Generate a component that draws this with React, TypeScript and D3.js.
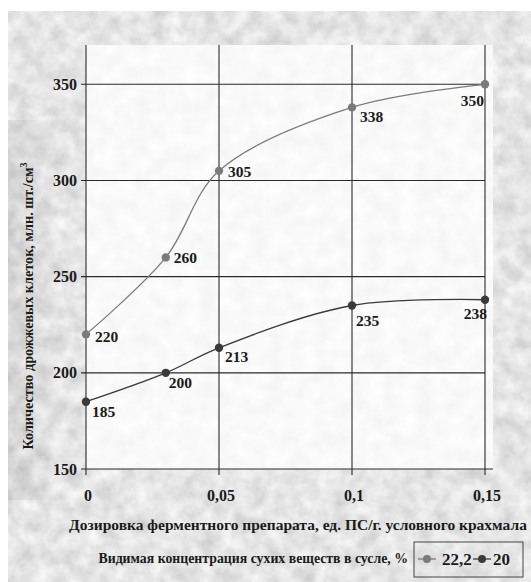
import React from 'react';
import * as d3 from 'd3';

const doses = [0, 0.03, 0.05, 0.1, 0.15];
const seriesA = [220, 260, 305, 338, 350]; // 22,2 %
const seriesB = [185, 200, 213, 235, 238]; // 20 %
const seriesNames = ['22,2', '20'];
const xTicks = [0, 0.05, 0.1, 0.15];
const xTickLabels = ['0', '0,05', '0,1', '0,15'];
const yTicks = [150, 200, 250, 300, 350];
const xTitle = 'Дозировка ферментного препарата, ед. ПС/г. условного крахмала';
const yTitle = 'Количество дрожжевых клеток, млн. шт./см';
const legendTitle = 'Видимая концентрация сухих веществ в сусле, %';

// label placement (style): [dx, dy, anchor]
const labelPosA: [number, number, string][] = [
  [9, 7.5, 'start'], [8, 5.5, 'start'], [9, 6, 'start'], [8, 14.5, 'start'], [-1, 22, 'end'],
];
const labelPosB: [number, number, string][] = [
  [6, 15, 'start'], [3, 15, 'start'], [6, 14, 'start'], [4, 20, 'start'], [2, 19, 'end'],
];

const W = 531;
const H = 582;
const FONT = '"Liberation Serif", "Times New Roman", serif';
const COL_A = '#7b7b7b';
const COL_B = '#3a3a3a';

export default function App() {
  const x = d3.scaleLinear().domain([0, 0.15]).range([86, 485]);
  const y = d3.scaleLinear().domain([150, 350]).range([469, 84.3]);
  const line = d3
    .line<[number, number]>()
    .x((d) => x(d[0]))
    .y((d) => y(d[1]))
    .curve(d3.curveCatmullRom.alpha(0.5));

  const dataA: [number, number][] = doses.map((d, i) => [d, seriesA[i]]);
  const dataB: [number, number][] = doses.map((d, i) => [d, seriesB[i]]);

  const plotTop = 45;
  const plotRight = 493;

  const renderSeries = (
    data: [number, number][],
    color: string,
    pos: [number, number, string][]
  ) => (
    <g>
      <path d={line(data) || ''} fill="none" stroke={color} strokeWidth={1.3} />
      {data.map((d, i) => (
        <circle key={i} cx={x(d[0])} cy={y(d[1])} r={4.2} fill={color} />
      ))}
      {data.map((d, i) => (
        <text
          key={'t' + i}
          x={x(d[0]) + pos[i][0]}
          y={y(d[1]) + pos[i][1]}
          textAnchor={pos[i][2] as any}
          fontFamily={FONT}
          fontWeight="bold"
          fontSize={15.5}
          fill="#1a1a1a"
        >
          {d[1]}
        </text>
      ))}
    </g>
  );

  return (
    <svg
      width={W}
      height={H}
      style={{ position: 'absolute', left: 0, top: 0, display: 'block' }}
    >
      <defs>
        <filter id="marbleOuter" x="0" y="0" width="100%" height="100%">
          <feTurbulence type="fractalNoise" baseFrequency="0.06" numOctaves={4} seed={7} />
          <feColorMatrix
            type="matrix"
            values="0.45 0 0 0 0.56  0.45 0 0 0 0.56  0.45 0 0 0 0.56  0 0 0 0 1"
          />
        </filter>
        <filter id="marbleInner" x="0" y="0" width="100%" height="100%">
          <feTurbulence type="fractalNoise" baseFrequency="0.06" numOctaves={4} seed={11} />
          <feColorMatrix
            type="matrix"
            values="0.12 0 0 0 0.89  0.12 0 0 0 0.89  0.12 0 0 0 0.89  0 0 0 0 1"
          />
        </filter>
        <linearGradient id="leftShade" x1="0" x2="1" y1="0" y2="0">
          <stop offset="0" stopColor="#000" stopOpacity={0.07} />
          <stop offset="1" stopColor="#000" stopOpacity={0} />
        </linearGradient>
      </defs>
      <rect x={0} y={0} width={W} height={H} fill="#fff" />
      <rect x={8} y={11} width={W - 8} height={H - 11} filter="url(#marbleOuter)" />
      <rect x={8} y={120} width={60} height={380} fill="url(#leftShade)" />
      <rect
        x={86}
        y={plotTop}
        width={plotRight - 86}
        height={469 - plotTop}
        filter="url(#marbleInner)"
      />

      {/* horizontal grid */}
      {yTicks.map((t) => (
        <line
          key={'h' + t}
          x1={81}
          x2={t === 150 ? plotRight : 485}
          y1={y(t)}
          y2={y(t)}
          stroke="#2a2a2a"
          strokeWidth={1.1}
        />
      ))}
      {/* vertical grid */}
      {xTicks.map((t) => (
        <line
          key={'v' + t}
          x1={x(t)}
          x2={x(t)}
          y1={plotTop}
          y2={475}
          stroke="#2a2a2a"
          strokeWidth={1.1}
        />
      ))}

      {/* y tick labels */}
      {yTicks.map((t) => (
        <text
          key={'yl' + t}
          x={77}
          y={y(t) + 5.5}
          textAnchor="end"
          fontFamily={FONT}
          fontWeight="bold"
          fontSize={16}
          fill="#1a1a1a"
        >
          {t}
        </text>
      ))}
      {/* x tick labels */}
      {xTicks.map((t, i) => (
        <text
          key={'xl' + t}
          x={x(t) + 2}
          y={500.5}
          textAnchor="middle"
          fontFamily={FONT}
          fontWeight="bold"
          fontSize={16}
          fill="#1a1a1a"
        >
          {xTickLabels[i]}
        </text>
      ))}

      {renderSeries(dataA, COL_A, labelPosA)}
      {renderSeries(dataB, COL_B, labelPosB)}

      {/* axis titles */}
      <text
        x={298}
        y={530}
        textAnchor="middle"
        fontFamily={FONT}
        fontWeight="bold"
        fontSize={15.5}
        fill="#1a1a1a"
      >
        {xTitle}
      </text>
      <text
        transform={`translate(33, 306) rotate(-90)`}
        textAnchor="middle"
        fontFamily={FONT}
        fontWeight="bold"
        fontSize={14.2}
        fill="#1a1a1a"
      >
        {yTitle}
        <tspan fontSize={10} dy={-6}>3</tspan>
      </text>

      {/* legend */}
      <text
        x={408}
        y={562.5}
        textAnchor="end"
        fontFamily={FONT}
        fontWeight="bold"
        fontSize={13.8}
        fill="#1a1a1a"
      >
        {legendTitle}
      </text>
      <rect x={414} y={542} width={109} height={35} fill="none" stroke="#444" strokeWidth={1} />
      {[COL_A, COL_B].map((c, i) => {
        const lx = i === 0 ? 418 : 473;
        const tx = i === 0 ? 442 : 493;
        return (
          <g key={'lg' + i}>
            <line x1={lx} x2={lx + 18} y1={559} y2={559} stroke={c} strokeWidth={1.3} />
            <circle cx={lx + 9} cy={559} r={4} fill={c} />
            <text
              x={tx}
              y={565}
              fontFamily={FONT}
              fontWeight="bold"
              fontSize={17}
              fill="#1a1a1a"
            >
              {seriesNames[i]}
            </text>
          </g>
        );
      })}
    </svg>
  );
}
